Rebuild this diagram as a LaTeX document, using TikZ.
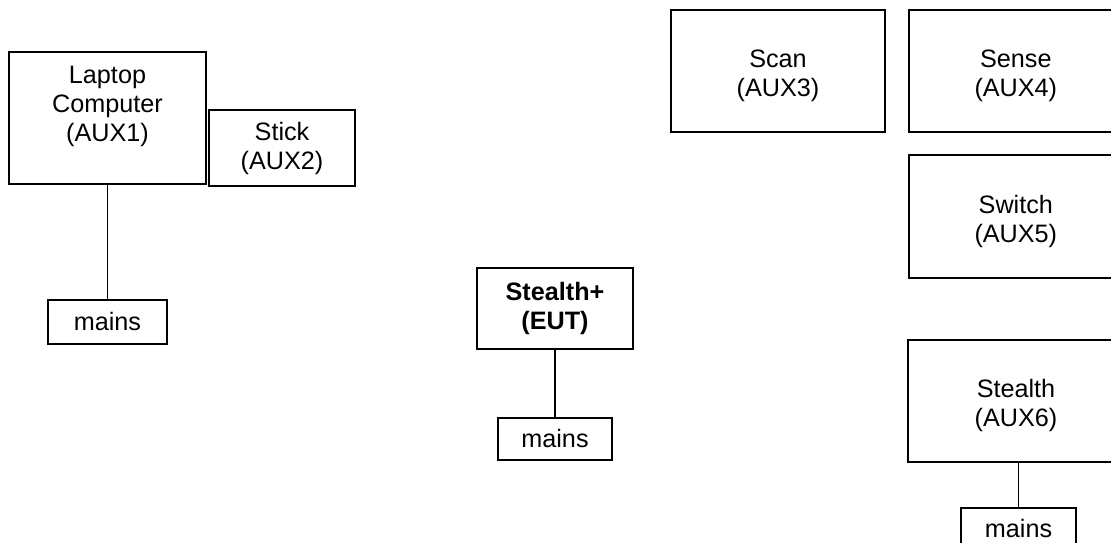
\documentclass[tikz,border=0pt]{standalone}
\usepackage{fontspec}
\setmainfont{Liberation Sans}
\usetikzlibrary{positioning}

\begin{document}
\begin{tikzpicture}[
x=0.5pt, y=-0.5pt,
node distance=10pt,
every node/.style={font=\fontsize{12.6}{14.5}\selectfont},
unitbox/.style={
rectangle,
draw,
line width=0.9pt,
align=center,
inner sep=2pt
},
eutbox/.style={
unitbox,
font=\fontsize{12.6}{14.5}\selectfont\bfseries,
minimum width=78pt,
minimum height=40.5pt
},
auxbox/.style={
unitbox,
text height=28.5pt,
minimum width=107pt,
minimum height=61pt
},
mainsbox/.style={
unitbox,
minimum width=58pt,
minimum height=21pt
},
line/.style={draw, line width=0.65pt}
]

\useasboundingbox (0,0) rectangle (1111,542);
\clip (0,0) rectangle (1111,542);

% Nodes
\node[unitbox, minimum width=98.5pt, minimum height=66pt] (laptop) at (107.5,118)
{Laptop\\Computer\\(AUX1)\\\mbox{}};

\node[unitbox, minimum width=73pt, minimum height=38pt] (stick) at (282,148)
{Stick\\(AUX2)};

\node[mainsbox, minimum width=59.5pt, minimum height=22pt, below=57pt of laptop] (mainsA)
{mains};

\node[eutbox] (eut) at (555,308.5)
{Stealth+\\(EUT)};

\node[mainsbox, minimum width=57pt, below=33.5pt of eut] (mainsB)
{mains};

\node[auxbox] (scan) at (778,71)
{Scan\\(AUX3)};

\node[auxbox, right=11pt of scan] (sense)
{Sense\\(AUX4)};

\node[auxbox, minimum height=61.5pt, below=10.5pt of sense] (switch)
{Switch\\(AUX5)};

\node[auxbox, minimum width=108pt] (stealth) at (1016,401)
{Stealth\\(AUX6)};

\node[mainsbox, minimum width=57.5pt, below=22pt of stealth, xshift=1.25pt] (mainsC)
{mains};

% Connections
\draw[line] (laptop) -- (mainsA);
\draw[line] (eut) -- (mainsB);
\draw[line] (stealth.south -| mainsC.north) -- (mainsC.north);

\end{tikzpicture}
\end{document}
